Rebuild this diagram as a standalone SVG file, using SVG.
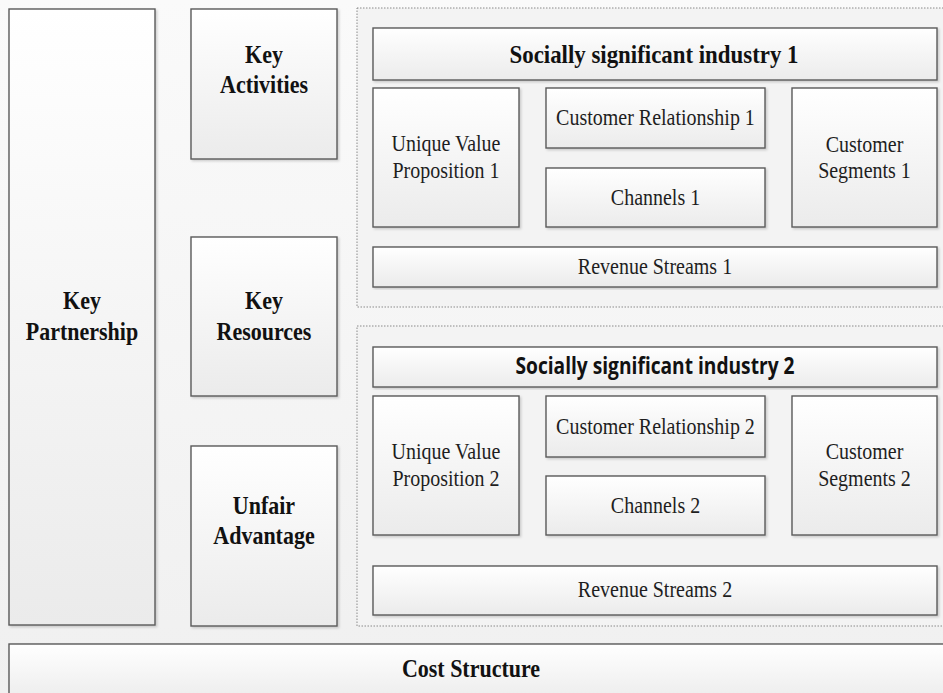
<svg xmlns="http://www.w3.org/2000/svg" width="943" height="693" viewBox="0 0 943 693">
<defs>
<linearGradient id="bg" x1="0" y1="0" x2="0" y2="1">
<stop offset="0" stop-color="#fafafa"/><stop offset="1" stop-color="#f0f0f0"/>
</linearGradient>
<linearGradient id="box" x1="0" y1="0" x2="0" y2="1">
<stop offset="0" stop-color="#ffffff"/><stop offset="1" stop-color="#ebebeb"/>
</linearGradient>
<filter id="sh" x="-5%" y="-5%" width="112%" height="112%">
<feDropShadow dx="1.5" dy="1.5" stdDeviation="1" flood-color="#000" flood-opacity="0.18"/>
</filter>
<style>
.b{fill:url(#box);stroke:#5a5a5a;stroke-width:1.4;filter:url(#sh)}
.d{fill:#f3f3f3;stroke:#8a8a8a;stroke-width:1;stroke-dasharray:1.5 1.5}
text{transform-box:fill-box;transform-origin:center;transform:scaleY(1.18)}
.tb{font-family:"Liberation Serif","Times New Roman",serif;font-weight:bold;font-size:22px;fill:#111;text-anchor:middle}
.tr{font-family:"Liberation Serif","Times New Roman",serif;font-size:20px;fill:#1e1e1e;text-anchor:middle}
.ts{font-family:"Open Sans","Liberation Sans",sans-serif;font-weight:bold;font-size:20px;fill:#111;text-anchor:middle}
</style>
</defs>
<rect x="0" y="0" width="943" height="693" fill="url(#bg)"/>

<g id="key-partnership">
<rect class="b" x="9" y="9" width="146" height="616"/>
<text class="tb" x="82" y="308">Key</text>
<text class="tb" x="82" y="339">Partnership</text>
</g>
<g id="key-activities">
<rect class="b" x="191" y="9" width="146" height="150"/>
<text class="tb" x="264" y="62">Key</text>
<text class="tb" x="264" y="92">Activities</text>
</g>
<g id="key-resources">
<rect class="b" x="191" y="237" width="146" height="159"/>
<text class="tb" x="264" y="308">Key</text>
<text class="tb" x="264" y="339">Resources</text>
</g>
<g id="unfair-advantage">
<rect class="b" x="191" y="446" width="146" height="180"/>
<text class="tb" x="264" y="513">Unfair</text>
<text class="tb" x="264" y="543">Advantage</text>
</g>

<g id="industry-1">
<rect class="d" x="357" y="8" width="600" height="299"/>
<g id="industry-1-title">
<rect class="b" x="373" y="28" width="564" height="52"/>
<text class="tb" x="654" y="62" font-size="23" textLength="289" lengthAdjust="spacingAndGlyphs">Socially significant industry 1</text>
</g>
<g id="uvp-1">
<rect class="b" x="373" y="88" width="146" height="139"/>
<text class="tr" x="446" y="150">Unique Value</text>
<text class="tr" x="446" y="177">Proposition 1</text>
</g>
<g id="cr-1">
<rect class="b" x="546" y="88" width="219" height="60"/>
<text class="tr" x="655.5" y="124">Customer Relationship 1</text>
</g>
<g id="channels-1">
<rect class="b" x="546" y="168" width="219" height="59"/>
<text class="tr" x="655.5" y="204">Channels 1</text>
</g>
<g id="cs-1">
<rect class="b" x="792" y="88" width="145" height="139"/>
<text class="tr" x="864.5" y="151">Customer</text>
<text class="tr" x="864.5" y="177">Segments 1</text>
</g>
<g id="rs-1">
<rect class="b" x="373" y="247" width="564" height="40"/>
<text class="tr" x="655" y="273">Revenue Streams 1</text>
</g>
</g>

<g id="industry-2">
<rect class="d" x="357" y="326" width="600" height="300"/>
<g id="industry-2-title">
<rect class="b" x="373" y="347" width="564" height="40"/>
<text class="ts" x="655" y="373" textLength="279" lengthAdjust="spacingAndGlyphs">Socially significant industry 2</text>
</g>
<g id="uvp-2">
<rect class="b" x="373" y="396" width="146" height="139"/>
<text class="tr" x="446" y="458">Unique Value</text>
<text class="tr" x="446" y="485">Proposition 2</text>
</g>
<g id="cr-2">
<rect class="b" x="546" y="396" width="219" height="61"/>
<text class="tr" x="655.5" y="433">Customer Relationship 2</text>
</g>
<g id="channels-2">
<rect class="b" x="546" y="476" width="219" height="59"/>
<text class="tr" x="655.5" y="512">Channels 2</text>
</g>
<g id="cs-2">
<rect class="b" x="792" y="396" width="145" height="139"/>
<text class="tr" x="864.5" y="458">Customer</text>
<text class="tr" x="864.5" y="485">Segments 2</text>
</g>
<g id="rs-2">
<rect class="b" x="373" y="566" width="564" height="49"/>
<text class="tr" x="655" y="596">Revenue Streams 2</text>
</g>
</g>

<g id="cost-structure">
<rect class="b" x="9" y="644" width="950" height="60"/>
<text class="tb" x="471" y="676">Cost Structure</text>
</g>
<g id="connectors"/>
</svg>
